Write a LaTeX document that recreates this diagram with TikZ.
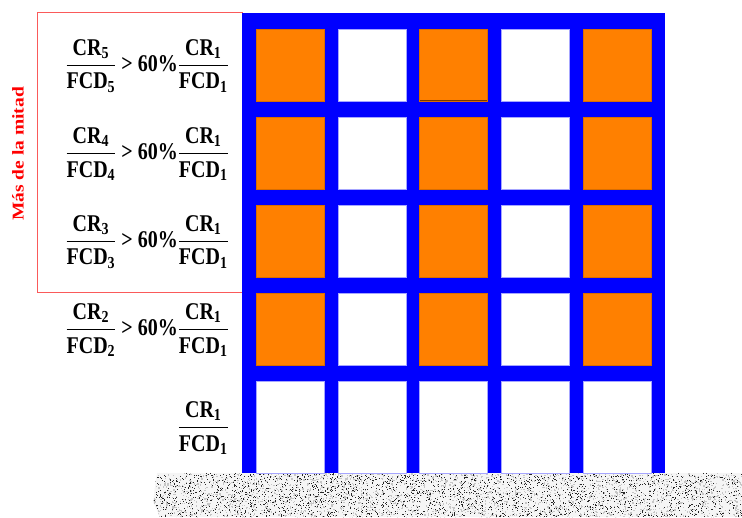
\documentclass[tikz,border=0pt]{standalone}
\usepackage{amsmath}
\usepackage{graphicx}
\usepackage{fontspec}
\setmainfont{Liberation Serif}
\definecolor{frameblue}{RGB}{0,0,255}
\definecolor{panelorange}{RGB}{255,128,0}
\definecolor{boxred}{RGB}{250,90,90}
\newcommand{\crfrac}[1]{\dfrac{\text{CR}_{\text{#1}}}{\text{FCD}_{\text{#1}}}}
\newcommand{\tallratio}[1]{\scalebox{1}[1.2]{#1}}
\tikzset{
  ratio/.style={inner sep=0pt, anchor=east, font=\bfseries\fontsize{20}{24}\selectfont},
  opanel/.style={fill=panelorange, draw=panelorange!85!black, line width=0.5pt},
  wpanel/.style={fill=white, draw=frameblue!35, line width=0.6pt},
}
\begin{document}
\begin{tikzpicture}[x=1pt,y=-1pt]
\useasboundingbox (0,0) rectangle (742,518);
% red box
\draw[draw=boxred, line width=1pt] (37,13) rectangle (242,293);
% ground
\begin{scope}
\clip (157,473) -- (742,473) -- (742,517) -- (160,517) -- (153,502) -- (155,486) -- cycle;
\fill[gray!8] (150,470) rectangle (742,518);
\pgfmathsetseed{7}
\foreach \k in {1,...,2600}{
  \pgfmathsetmacro\xx{153+589*rnd}
  \pgfmathsetmacro\yy{473+44*rnd}
  \fill[black!85] (\xx,\yy) rectangle ++(1,1);
}
\foreach \k in {1,...,2600}{
  \pgfmathsetmacro\xx{153+589*rnd}
  \pgfmathsetmacro\yy{473+44*rnd}
  \fill[gray!45] (\xx,\yy) rectangle ++(1.2,1.2);
}
\end{scope}
% frame
\fill[frameblue] (242,13) rectangle (665,473);
\foreach \i in {0,...,4}{
  \foreach \j in {0,...,3}{
    \ifodd\i
      \path[wpanel] ({256+81.8*\i},{29+88*\j}) rectangle ++(68,72);
    \else
      \path[opanel] ({256+81.8*\i},{29+88*\j}) rectangle ++(68,72);
    \fi
  }
  \path[wpanel] ({256+81.8*\i},381) rectangle ++(68,92);
}
\draw[panelorange!45!black, line width=1.2pt] (420,100.4) -- (487,100.4);
% labels
\node[ratio] (r5) at (229,66) {\tallratio{$\crfrac{5}\text{ > 60\%}\crfrac{1}$}};
\node[ratio] (r4) at (229,154) {\tallratio{$\crfrac{4}\text{ > 60\%}\crfrac{1}$}};
\node[ratio] (r3) at (229,242) {\tallratio{$\crfrac{3}\text{ > 60\%}\crfrac{1}$}};
\node[ratio] (r2) at (229,330) {\tallratio{$\crfrac{2}\text{ > 60\%}\crfrac{1}$}};
\node[ratio] (r1) at (229,428) {\tallratio{$\crfrac{1}$}};
\node[rotate=90, text=red, inner sep=0pt, font=\bfseries\fontsize{15}{18}\selectfont] (half) at (18,154) {\scalebox{1.3}[1.1]{Más de la mitad}};
\end{tikzpicture}
\end{document}
